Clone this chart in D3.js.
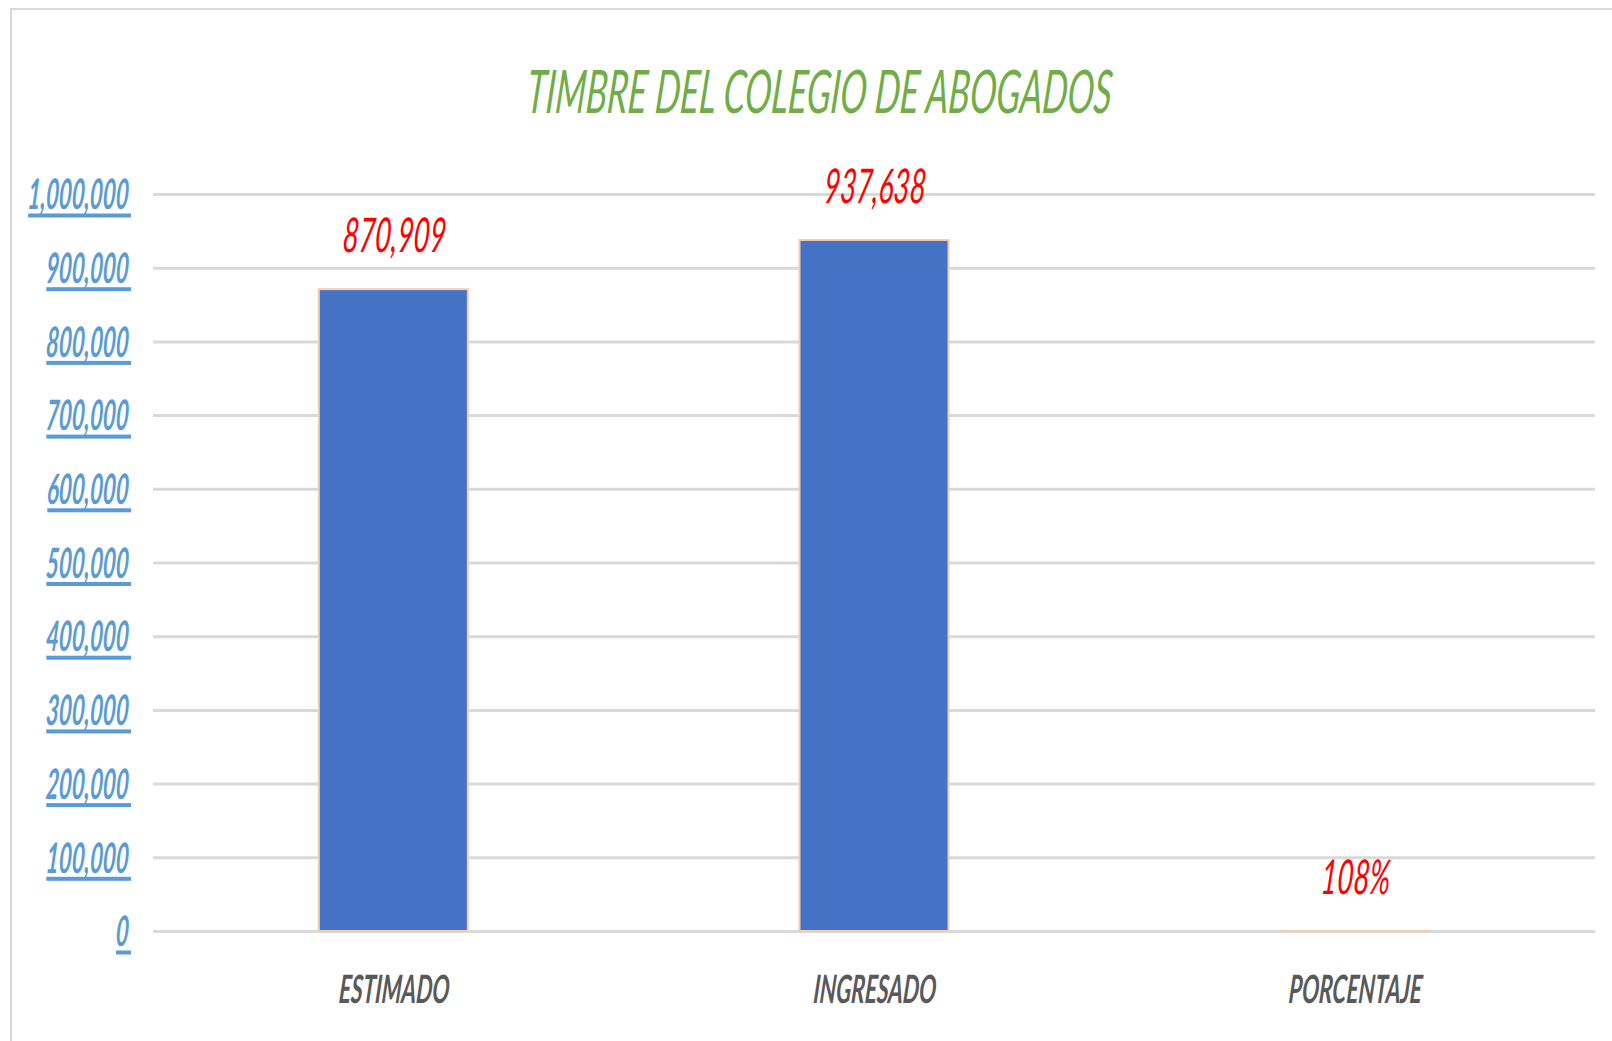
<!DOCTYPE html>
<html>
<head>
<meta charset="utf-8">
<style>
  body { margin: 0; background: #fff; }
  .grid line { stroke: #d9d9d9; stroke-width: 3px; }
  .grid path { display: none; }
  .yaxis path, .xaxis path { display: none; }
  text { font-family: Lato, "Open Sans", sans-serif; font-style: italic; }
</style>
</head>
<body>
<div id="chart"></div>
<script src="https://d3js.org/d3.v7.min.js"></script>
<script>

// data
var categories = ["ESTIMADO", "INGRESADO", "PORCENTAJE"];
var values = [870909, 937638, 1.08];
var valueLabels = ["870,909", "937,638", "108%"];
var yTicks = [0, 100000, 200000, 300000, 400000, 500000, 600000, 700000, 800000, 900000, 1000000];
var title = "TIMBRE DEL COLEGIO DE ABOGADOS";

var W = 1612, H = 1041;
var plotL = 153, plotR = 1595, plotT = 194, plotB = 931;
var sx = 0.53, sx2 = 0.58; // horizontal squeeze of the text
var skew = " skewX(-8)";

var svg = d3.select("#chart").append("svg")
    .attr("width", W)
    .attr("height", H);

// chart border
svg.append("rect")
    .attr("x", 11).attr("y", 9)
    .attr("width", 1700).attr("height", 1100)
    .attr("fill", "none")
    .attr("stroke", "#d9d9d9")
    .attr("stroke-width", 2);

var x = d3.scaleBand()
    .domain(categories)
    .range([plotL, plotR])
    .paddingInner(0.69)
    .paddingOuter(0.345);

var y = d3.scaleLinear()
    .domain([0, 1000000])
    .range([plotB, plotT]);

// gridlines
svg.append("g")
    .attr("class", "grid")
    .attr("transform", "translate(" + plotL + ",0)")
    .call(d3.axisLeft(y).tickValues(yTicks).tickSize(-(plotR - plotL)).tickFormat(""));

// y labels
var yAxis = svg.append("g")
    .attr("class", "yaxis")
    .attr("transform", "translate(130,0)")
    .call(d3.axisLeft(y).tickValues(yTicks).tickSize(0).tickPadding(0).tickFormat(d3.format(",")));

yAxis.selectAll(".tick").each(function() {
  var g = d3.select(this);
  var t = g.select("text")
      .attr("x", -2)
      .attr("dy", "0.35em")
      .attr("text-anchor", "end")
      .attr("fill", "#5b9bd5")
      .style("font-size", "42px")
      .style("font-weight", "bold");
  var inner = g.append("g").attr("transform", "scale(" + sx + ",1)");
  inner.node().appendChild(t.node());
  t.attr("transform", "skewX(-8)");
  var bb = t.node().getBBox();
  inner.append("rect")
      .attr("x", bb.x)
      .attr("y", 19)
      .attr("width", bb.width + 4)
      .attr("height", 4)
      .attr("fill", "#5b9bd5");
});

// bars
svg.selectAll(".bar")
    .data(values)
  .enter().append("rect")
    .attr("class", "bar")
    .attr("x", function(d, i) { return x(categories[i]); })
    .attr("width", x.bandwidth())
    .attr("y", function(d) { return y(d); })
    .attr("height", function(d) { return plotB - y(d); })
    .attr("fill", "#4472c4")
    .attr("stroke", "#f8cbad")
    .attr("stroke-width", 2);

// value labels
svg.selectAll(".vlabel")
    .data(values)
  .enter().append("text")
    .attr("class", "vlabel")
    .attr("transform", function(d, i) {
      return "translate(" + (x(categories[i]) + x.bandwidth() / 2) + "," + (y(d) - 37) + ") scale(" + sx2 + ",1)" + skew;
    })
    .attr("text-anchor", "middle")
    .attr("fill", "#ff0000")
    .style("font-size", "48px")
    .text(function(d, i) { return valueLabels[i]; });

// category axis
var xAxis = svg.append("g")
    .attr("class", "xaxis")
    .attr("transform", "translate(0," + plotB + ")")
    .call(d3.axisBottom(x).tickSize(0));

xAxis.selectAll("text")
    .attr("y", 0)
    .attr("dy", 0)
    .attr("transform", "translate(0,72) scale(" + sx2 + ",1)" + skew)
    .attr("fill", "#595959")
    .style("font-size", "39px")
    .style("font-weight", "bold");

// title
svg.append("text")
    .attr("transform", "translate(818,113) scale(0.59,1)" + skew)
    .attr("text-anchor", "middle")
    .attr("fill", "#70ad47")
    .style("font-size", "60px")
    .text(title);

</script>
</body>
</html>
